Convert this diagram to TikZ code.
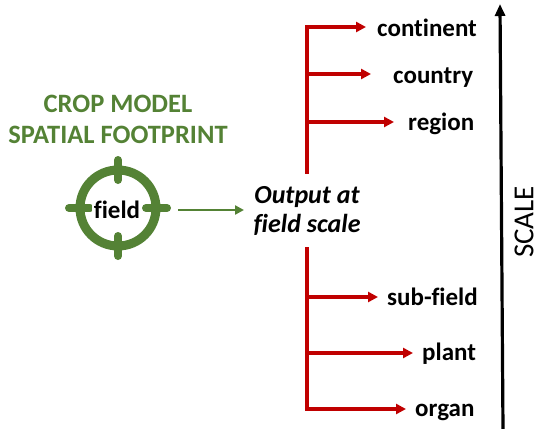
\documentclass[tikz,border=0pt]{standalone}
\usepackage{fontspec}
\setmainfont{Carlito}[Ligatures=NoCommon]
\usetikzlibrary{arrows.meta}
\definecolor{cgreen}{HTML}{548235}
\definecolor{cred}{HTML}{C00000}
\begin{document}
\begin{tikzpicture}[x=1pt,y=-1pt,
  redline/.style={draw=cred, line width=3.2pt},
  redarrow/.style={draw=cred, line width=3.2pt, -{Triangle[length=10pt,width=10pt]}},
  lbl/.style={font=\fontsize{25}{30}\selectfont\bfseries, anchor=base west, inner sep=0pt},
  title/.style={font=\fontsize{26.5}{30}\selectfont\bfseries, text=cgreen, anchor=base, inner sep=0pt},
  outtxt/.style={font=\fontsize{26}{30}\selectfont\bfseries\itshape, anchor=base, inner sep=0pt},
  ring/.style={draw=cgreen, line width=9pt},
  tick/.style={draw=cgreen, line width=8pt, line cap=round}]
\useasboundingbox (0,0) rectangle (547,429);

% title
\node[title] (t1) at (118,112) {CROP MODEL};
\node[title] (t2) at (118,143) {SPATIAL FOOTPRINT};

% target symbol
\coordinate (fc) at (118,208);
\draw[tick] ([yshift=-28]fc) -- ([yshift=-48]fc);
\draw[tick] ([yshift=28]fc) -- ([yshift=48]fc);
\draw[tick] ([xshift=-28]fc) -- ([xshift=-49]fc);
\draw[tick] ([xshift=28]fc) -- ([xshift=49]fc);
\draw[ring] (fc) circle (38);
\node[font=\fontsize{25}{28}\selectfont\bfseries, fill=white, inner sep=1.5pt, anchor=base] (field) at (117,218) {field};

% green arrow
\coordinate (ga) at (178,210);
\coordinate (gb) at (244,210);
\draw[draw=cgreen, line width=2.7pt, -{Triangle[length=9pt,width=9pt]}] (ga) -- (gb);

% output text
\node[outtxt] (o1) at (307,203) {Output at};
\node[outtxt] (o2) at (307,232) {field scale};

% red trunk
\coordinate (tt) at (307,27);
\coordinate (tm1) at (307,174);
\coordinate (tm2) at (307,247);
\coordinate (tb) at (307,409);
\draw[redline] (tt) -- (tm1);
\draw[redline] (tm2) -- (tb);

% branches
\coordinate (b1) at (307,27);  \coordinate (e1) at (366,27);
\coordinate (b2) at (307,74);  \coordinate (e2) at (371,74);
\coordinate (b3) at (307,122); \coordinate (e3) at (394,122);
\coordinate (b4) at (307,297); \coordinate (e4) at (378,297);
\coordinate (b5) at (307,353); \coordinate (e5) at (413,353);
\coordinate (b6) at (307,409); \coordinate (e6) at (406,409);
\draw[redarrow] ([xshift=-1.6]b1) -- (e1);
\draw[redarrow] (b2) -- (e2);
\draw[redarrow] (b3) -- (e3);
\draw[redarrow] (b4) -- (e4);
\draw[redarrow] (b5) -- (e5);
\draw[redarrow] ([xshift=-1.6]b6) -- (e6);

% labels
\node[lbl] (l1) at (377,36) {continent};
\node[lbl] (l2) at (393,83) {country};
\node[lbl] (l3) at (408,130) {region};
\node[lbl] (l4) at (387,305) {sub-field};
\node[lbl] (l5) at (422,360) {plant};
\node[lbl] (l6) at (415,416) {organ};

% scale arrow
\coordinate (sa) at (503,429);
\coordinate (sb) at (500,4);
\draw[line width=3.2pt, -{Triangle[length=12pt,width=10pt]}] (sa) -- (sb);
\node[font=\fontsize{29}{32}\selectfont, rotate=90, inner sep=0pt] (scale) at (524,222) {SCALE};
\end{tikzpicture}
\end{document}
